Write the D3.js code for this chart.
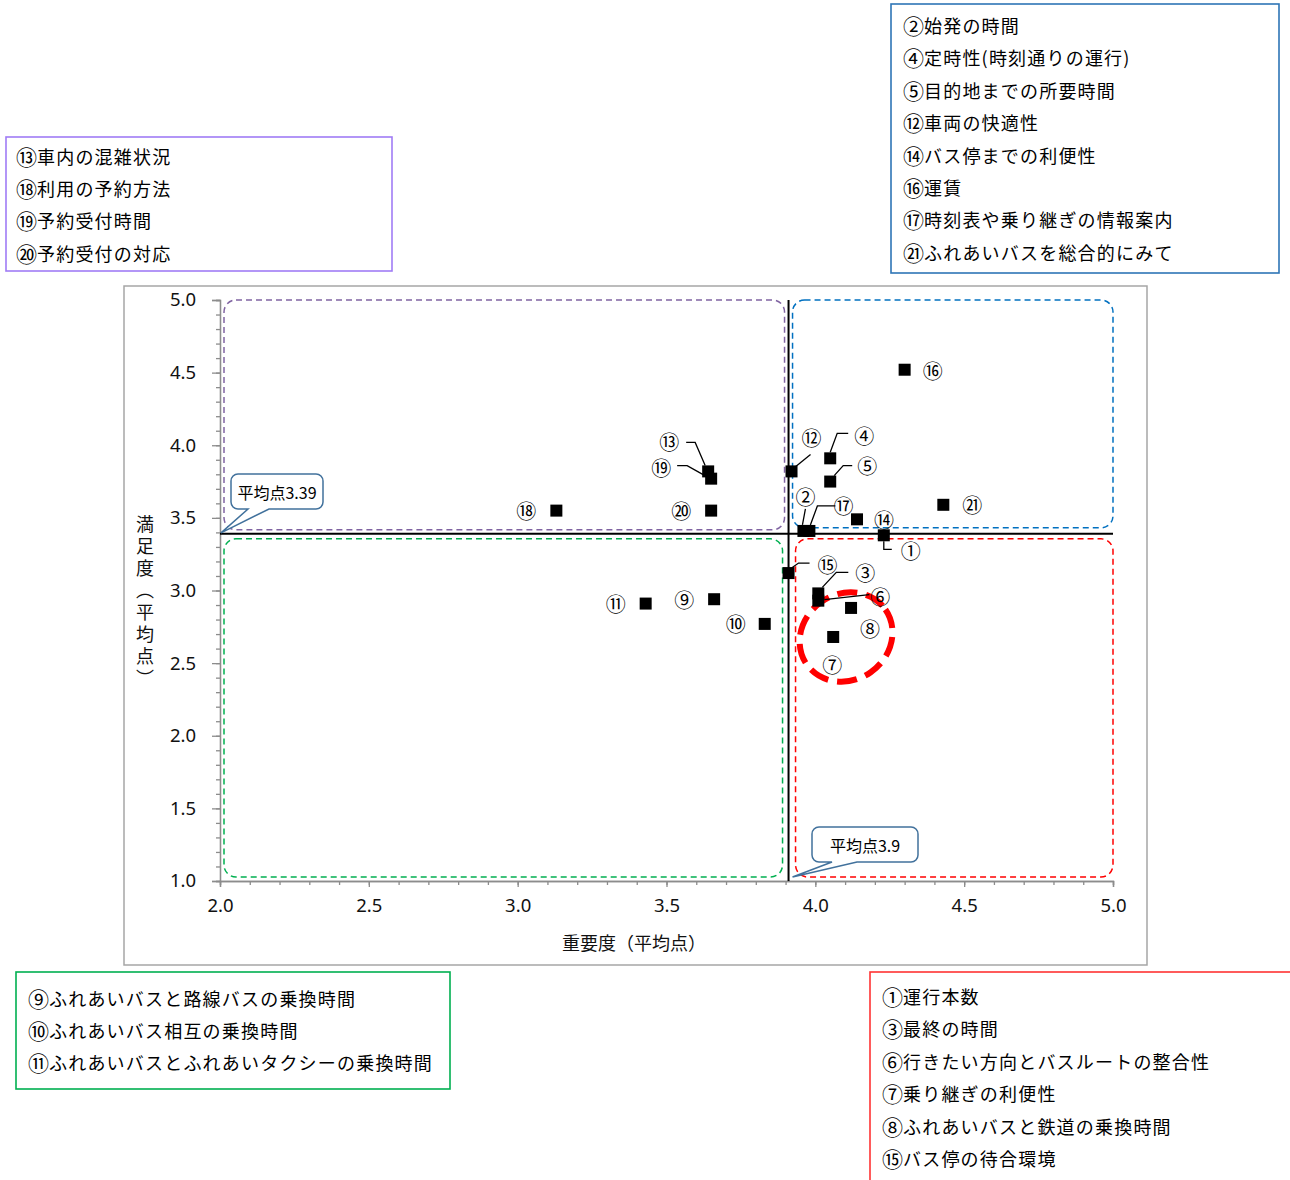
<!DOCTYPE html>
<html><head><meta charset="utf-8">
<script src="https://cdn.jsdelivr.net/npm/d3@7"></script>
<style>body{margin:0;background:#fff} svg{display:block}</style>
</head><body>
<script>
// ---------- data ----------
const itemIds = ["①","②","③","④","⑤","⑥","⑦","⑧","⑨","⑩","⑪","⑫","⑬","⑭","⑮","⑯","⑰","⑱","⑲","⑳","㉑"];
const importance   = [4.23,3.96,4.01,4.05,4.05,4.01,4.06,4.12,3.66,3.83,3.43,3.92,3.64,4.14,3.91,4.30,3.98,3.13,3.65,3.65,4.43];
const satisfaction = [3.38,3.41,2.98,3.91,3.75,2.93,2.68,2.88,2.94,2.77,2.91,3.82,3.82,3.49,3.12,4.52,3.41,3.55,3.77,3.55,3.59];
const avgImportance = 3.91;
const avgSatisfaction = 3.39;
const avgImportanceLabel = "平均点3.9";
const avgSatisfactionLabel = "平均点3.39";
const xTicks = [2.0,2.5,3.0,3.5,4.0,4.5,5.0];
const yTicks = [1.0,1.5,2.0,2.5,3.0,3.5,4.0,4.5,5.0];
const xTitle = "重要度（平均点）";
const yTitle = "満足度（平均点）";
const groupBlue   = ["②始発の時間","④定時性(時刻通りの運行)","⑤目的地までの所要時間","⑫車両の快適性","⑭バス停までの利便性","⑯運賃","⑰時刻表や乗り継ぎの情報案内","㉑ふれあいバスを総合的にみて"];
const groupPurple = ["⑬車内の混雑状況","⑱利用の予約方法","⑲予約受付時間","⑳予約受付の対応"];
const groupGreen  = ["⑨ふれあいバスと路線バスの乗換時間","⑩ふれあいバス相互の乗換時間","⑪ふれあいバスとふれあいタクシーの乗換時間"];
const groupRed    = ["①運行本数","③最終の時間","⑥行きたい方向とバスルートの整合性","⑦乗り継ぎの利便性","⑧ふれあいバスと鉄道の乗換時間","⑮バス停の待合環境"];

// ---------- label layout (pixel offsets from each point) ----------
const labelLayout = [
  {dx:27, dy:15, lead:[[0,6],[0,14],[8,14]]},
  {dx:2, dy:-34, lead:[[2,-22],[-1,-6]]},
  {dx:47, dy:-21, lead:[[30,-21],[18,-21],[4,-6]]},
  {dx:34, dy:-23, lead:[[18,-25],[7,-25],[0,-6]]},
  {dx:37, dy:-16, lead:[[22,-16],[13,-16],[4,-6]]},
  {dx:62, dy:-4, lead:[[51,-6],[6,-1]]},
  {dx:-1, dy:28},
  {dx:19, dy:21},
  {dx:-30, dy:0},
  {dx:-29, dy:0},
  {dx:-30, dy:0},
  {dx:20, dy:-34, lead:[[19,-17],[3,-4]]},
  {dx:-39, dy:-30, lead:[[-22,-29],[-13,-29],[-3,-6]]},
  {dx:27, dy:0},
  {dx:39, dy:-9, lead:[[21,-10],[10,-10],[3,-5]]},
  {dx:28, dy:1},
  {dx:34, dy:-25, lead:[[26,-25],[8,-25],[1,-6]]},
  {dx:-30, dy:0},
  {dx:-50, dy:-11, lead:[[-34,-13],[-24,-13],[-8,-4]]},
  {dx:-30, dy:0},
  {dx:29, dy:0}
];

const W = 1290, H = 1180;
const JP = "'Noto Sans CJK JP','Noto Sans CJK SC',sans-serif";
const svg = d3.select("body").append("svg").attr("width", W).attr("height", H);

// outer chart frame
svg.append("rect").attr("x",124).attr("y",286).attr("width",1023).attr("height",679)
  .attr("fill","none").attr("stroke","#a6a6a6").attr("stroke-width",1.5);

const x = d3.scaleLinear().domain([2,5]).range([220,1113]);
const y = d3.scaleLinear().domain([1,5]).range([881,300]);

// quadrant dashed rounded boxes
const boxes = [
  {x0:x(2)+4, x1:x(avgImportance)-4, y0:y(5), y1:y(avgSatisfaction)-4, c:"#8064a2"},
  {x0:x(avgImportance)+4, x1:x(5), y0:y(5), y1:y(avgSatisfaction)-6, c:"#0070c0"},
  {x0:x(2)+4, x1:x(avgImportance)-6, y0:y(avgSatisfaction)+5, y1:y(1)-4, c:"#00b050"},
  {x0:x(avgImportance)+7, x1:x(5), y0:y(avgSatisfaction)+5, y1:y(1)-4, c:"#ff0000"}
];
svg.selectAll("rect.q").data(boxes).join("rect").attr("class","q")
  .attr("x",d=>d.x0).attr("y",d=>d.y0).attr("width",d=>d.x1-d.x0).attr("height",d=>d.y1-d.y0)
  .attr("rx",12).attr("ry",12).attr("fill","none").attr("stroke",d=>d.c)
  .attr("stroke-width",1.5).attr("stroke-dasharray","6,4");

// axes
const axisColor = "#8c8c8c";
const gy = svg.append("g").attr("transform",`translate(${x(2)},0)`)
  .call(d3.axisLeft(y).tickValues(yTicks).tickFormat(d3.format(".1f")).tickSize(8).tickPadding(16));
const gyMinor = svg.append("g").attr("transform",`translate(${x(2)},0)`)
  .call(d3.axisLeft(y).tickValues(d3.range(10,51).map(v=>v/10)).tickFormat("").tickSize(4));
const gx = svg.append("g").attr("transform",`translate(0,${y(1)})`)
  .call(d3.axisBottom(x).tickValues(xTicks).tickFormat(d3.format(".1f")).tickSize(6));
const gxMinor = svg.append("g").attr("transform",`translate(0,${y(1)})`)
  .call(d3.axisBottom(x).tickValues(d3.range(20,51).map(v=>v/10)).tickFormat("").tickSize(4));
[gy,gyMinor,gx,gxMinor].forEach(g=>{
  g.selectAll("path.domain").attr("stroke",axisColor).attr("stroke-width",1.3);
  g.selectAll("line").attr("stroke",axisColor).attr("stroke-width",1.3);
});
gy.selectAll("text").attr("font-family","'Noto Sans',sans-serif").attr("font-size",18.5).attr("fill","#111");
gx.selectAll("text").attr("font-family","'Noto Sans',sans-serif").attr("font-size",18.5).attr("fill","#111")
  .attr("dy",null).attr("y",31);

// axis titles
svg.append("text").attr("x",634).attr("y",950).attr("text-anchor","middle")
  .attr("font-family",JP).attr("font-size",18).attr("fill","#111").text(xTitle);
svg.append("text").attr("x",145).attr("y",603).attr("text-anchor","middle")
  .attr("style","writing-mode: vertical-rl;").attr("letter-spacing",4)
  .attr("font-family",JP).attr("font-size",18).attr("fill","#111").text(yTitle);

// average lines
svg.append("line").attr("x1",x(2)).attr("x2",x(5)).attr("y1",y(avgSatisfaction)).attr("y2",y(avgSatisfaction))
  .attr("stroke","#000").attr("stroke-width",2);
svg.append("line").attr("x1",x(avgImportance)).attr("x2",x(avgImportance)).attr("y1",y(5)).attr("y2",y(1))
  .attr("stroke","#000").attr("stroke-width",2);

// red emphasis ellipse
svg.append("ellipse").attr("cx",x(4.11)-2).attr("cy",y(2.68)).attr("rx",48).attr("ry",43)
  .attr("transform",`rotate(-35,${x(4.11)-2},${y(2.68)})`)
  .attr("fill","none").attr("stroke","#ff0000").attr("stroke-width",6).attr("stroke-dasharray","20,9");

// data
const pts = itemIds.map((id,i)=>({id, xv:importance[i], yv:satisfaction[i], lay:labelLayout[i]}));

// leaders
svg.selectAll("path.lead").data(pts.filter(p=>p.lay.lead)).join("path").attr("class","lead")
  .attr("d",p=>d3.line()(p.lay.lead.map(o=>[x(p.xv)+o[0], y(p.yv)+o[1]])))
  .attr("fill","none").attr("stroke","#000").attr("stroke-width",1.3);

// squares
svg.selectAll("rect.pt").data(pts).join("rect").attr("class","pt")
  .attr("x",p=>x(p.xv)-6).attr("y",p=>y(p.yv)-6).attr("width",12).attr("height",12).attr("fill","#000");

// labels
svg.selectAll("text.lbl").data(pts).join("text").attr("class","lbl")
  .attr("x",p=>x(p.xv)+p.lay.dx).attr("y",p=>y(p.yv)+p.lay.dy)
  .attr("text-anchor","middle").attr("dominant-baseline","central")
  .attr("font-family",JP).attr("font-size",20).attr("fill","#000").text(p=>p.id);

// callouts
function callout(bx,by,bw,bh,base0,base1,tip,text){
  const g = svg.append("g");
  const r = 7;
  const p = d3.path();
  p.moveTo(bx+r,by); p.lineTo(bx+bw-r,by); p.arcTo(bx+bw,by,bx+bw,by+r,r);
  p.lineTo(bx+bw,by+bh-r); p.arcTo(bx+bw,by+bh,bx+bw-r,by+bh,r);
  p.lineTo(base1,by+bh); p.lineTo(tip[0],tip[1]); p.lineTo(base0,by+bh);
  p.lineTo(bx+r,by+bh); p.arcTo(bx,by+bh,bx,by+bh-r,r);
  p.lineTo(bx,by+r); p.arcTo(bx,by,bx+r,by,r); p.closePath();
  g.append("path").attr("d",p.toString()).attr("fill","#fff").attr("stroke","#41719c").attr("stroke-width",1.5);
  g.append("text").attr("x",bx+bw/2).attr("y",by+bh/2).attr("text-anchor","middle").attr("dominant-baseline","central")
    .attr("font-family",JP).attr("font-size",16).attr("fill","#000").text(text);
}
callout(231,474,92,35,248,269,[x(2)+1,y(avgSatisfaction)-1],avgSatisfactionLabel);
callout(812,827,106,35,832,857,[x(avgImportance)+4,y(1)-4],avgImportanceLabel);

// legend boxes
function legend(bx,by,bw,bh,color,lines,tx,ty0,step){
  svg.append("rect").attr("x",bx).attr("y",by).attr("width",bw).attr("height",bh)
    .attr("fill","#fff").attr("stroke",color).attr("stroke-width",1.6);
  const t = svg.append("g").selectAll("text").data(lines).join("text")
    .attr("x",tx).attr("y",(d,i)=>ty0+i*step).attr("dominant-baseline","central")
    .attr("font-family",JP).attr("font-size",18).attr("letter-spacing",1.2).attr("fill","#000");
  t.append("tspan").attr("font-size",21).attr("letter-spacing",0).text(d=>d.slice(0,1));
  t.append("tspan").text(d=>d.slice(1));
}
legend(891,4,388,269,"#2e75b6",groupBlue,903,25,32.4);
legend(6,137,386,134,"#a07cf5",groupPurple,16,156,32.2);
legend(16,972,434,117,"#00b050",groupGreen,28,998,32);
legend(870,972,440,230,"#ff3333",groupRed,882,996,32.4);
</script>
</body></html>
